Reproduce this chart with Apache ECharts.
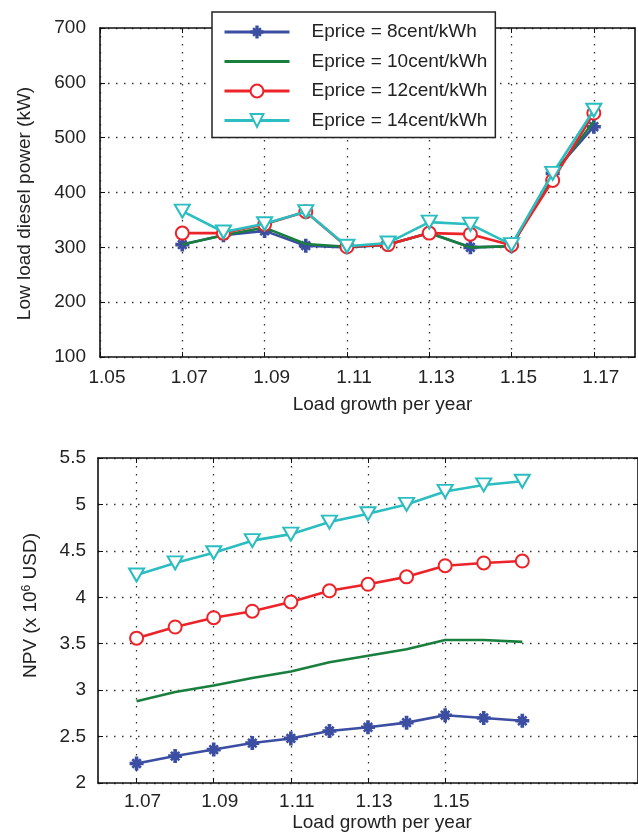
<!DOCTYPE html>
<html><head><meta charset="utf-8">
<script src="https://cdn.jsdelivr.net/npm/echarts@6/dist/echarts.min.js"></script>
<style>html,body{margin:0;padding:0;background:#fff}#c{width:638px;height:834px}</style>
</head><body><div id="c"></div>
<script>
// ---- data ----
const loadGrowth = [1.07, 1.08, 1.09, 1.10, 1.11, 1.12, 1.13, 1.14, 1.15, 1.16, 1.17];
const seriesNames = ['Eprice = 8cent/kWh', 'Eprice = 10cent/kWh', 'Eprice = 12cent/kWh', 'Eprice = 14cent/kWh'];
const power8  = [305, 322, 330, 303, 300, 305, 326, 300, 302, 435, 520];
const power10 = [305, 322, 336, 306, 301, 305, 326, 300, 302, 430, 530];
const power12 = [326, 326, 342, 365, 301, 305, 326, 324, 304, 422, 545];
const power14 = [366, 328, 343, 365, 302, 308, 346, 342, 305, 435, 550];
const npv8  = [2.21, 2.29, 2.36, 2.43, 2.48, 2.56, 2.60, 2.65, 2.73, 2.70, 2.67];
const npv10 = [2.88, 2.98, 3.05, 3.13, 3.20, 3.30, 3.37, 3.44, 3.54, 3.54, 3.52];
const npv12 = [3.56, 3.68, 3.78, 3.85, 3.95, 4.07, 4.14, 4.22, 4.34, 4.37, 4.39];
const npv14 = [4.24, 4.37, 4.48, 4.61, 4.68, 4.81, 4.90, 5.00, 5.14, 5.21, 5.25];
const topXTicks = [1.05, 1.07, 1.09, 1.11, 1.13, 1.15, 1.17];
const bottomXTicks = [1.07, 1.09, 1.11, 1.13, 1.15];

// ---- styles ----
const FONT = 'Liberation Sans, Arial, sans-serif';
const FS = 19;
const TXT = '#222';
const colors = ['#3b4ea2', '#187f3e', '#ec2329', '#2bbdbf'];
const asterisk = 'path://M3.7 0H6.3V10H3.7Z M0 3.7H10V6.3H0Z M2.6 1.3L8.7 7.4L7.4 8.7L1.3 2.6Z M7.4 1.3L8.7 2.6L2.6 8.7L1.3 7.4Z';
const symbols = [
  {symbol: asterisk, size: 14, rot: 0},
  {symbol: 'none', size: 0, rot: 0},
  {symbol: 'emptyCircle', size: 13, rot: 0},
  {symbol: 'emptyTriangle', size: [15, 13], rot: 180}
];

function mkSeries(idx, vals, xi, yi) {
  const s = symbols[idx];
  const c = colors[idx];
  return {
    type: 'line', name: seriesNames[idx], xAxisIndex: xi, yAxisIndex: yi,
    data: loadGrowth.map((x, i) => [x, vals[i]]),
    symbol: s.symbol, symbolSize: s.size, symbolRotate: s.rot,
    showSymbol: s.symbol !== 'none',
    lineStyle: {color: c, width: 2.6},
    itemStyle: {color: c, borderColor: c, borderWidth: s.symbol === asterisk ? 0 : 2.2},
    emphasis: {disabled: true},
    z: 2 + idx
  };
}

const dotted = {show: true, lineStyle: {color: '#333', width: 1.3, type: [1.5, 6.5]}};
const axLine = {show: true, onZero: false, lineStyle: {color: '#111', width: 1.6}};

function xMain(grid, min, max, ticks, name, nameGap, labelPad, namePad, margin) {
  return {
    type: 'value', gridIndex: grid, min, max, position: 'bottom',
    axisLine: axLine,
    axisTick: {show: true, inside: true, length: 5, customValues: ticks, lineStyle: {color: '#111'}},
    axisLabel: {customValues: ticks, formatter: v => v.toFixed(2), margin, fontSize: FS, fontFamily: FONT, color: TXT, padding: labelPad},
    splitLine: dotted,
    name, nameLocation: 'middle', nameGap,
    nameTextStyle: {fontSize: FS, fontFamily: FONT, color: TXT, padding: namePad}
  };
}
function xBox(grid, min, max, ticks) {
  return {
    type: 'value', gridIndex: grid, min, max, position: 'top',
    axisLine: axLine,
    axisTick: {show: true, inside: true, length: 5, customValues: ticks, lineStyle: {color: '#111'}},
    axisLabel: {show: false}, splitLine: {show: false}
  };
}
function yMain(grid, min, max, interval, name, nameGap, labelMargin, namePad) {
  return {
    type: 'value', gridIndex: grid, min, max, interval, position: 'left',
    axisLine: axLine,
    axisTick: {show: true, inside: true, length: 5, lineStyle: {color: '#111'}},
    axisLabel: {margin: labelMargin, fontSize: FS, fontFamily: FONT, color: TXT},
    splitLine: dotted,
    name, nameLocation: 'middle', nameGap,
    nameTextStyle: {fontSize: FS, fontFamily: FONT, color: TXT, padding: namePad,
      rich: {sup: {fontSize: 12, fontFamily: FONT, color: TXT, verticalAlign: 'top'}}}
  };
}
function yBox(grid, min, max, interval) {
  return {
    type: 'value', gridIndex: grid, min, max, interval, position: 'right',
    axisLine: axLine,
    axisTick: {show: true, inside: true, length: 5, lineStyle: {color: '#111'}},
    axisLabel: {show: false}, splitLine: {show: false}
  };
}

const option = {
  animation: false,
  backgroundColor: '#fff',
  textStyle: {fontFamily: FONT},
  grid: [
    {left: 100, top: 28, width: 535, height: 329},
    {left: 98, top: 458, width: 543, height: 325}
  ],
  legend: {
    orient: 'vertical', left: 212, top: 12,
    padding: [10, 8, 7, 11],
    itemWidth: 65, itemHeight: 16, itemGap: 9.5,
    backgroundColor: '#fff', borderColor: '#222', borderWidth: 1.5,
    lineStyle: {width: 3},
    textStyle: {fontSize: FS, fontFamily: FONT, color: TXT, lineHeight: 20, padding: [0, 0, 0, 17]},
    data: [
      {name: seriesNames[0]},
      {name: seriesNames[1], itemStyle: {color: 'rgba(0,0,0,0)', borderWidth: 0, opacity: 0}},
      {name: seriesNames[2]},
      {name: seriesNames[3]}
    ],
    selectedMode: false
  },
  xAxis: [
    xMain(0, 1.05, 1.18, topXTicks, 'Load growth per year', 38, [0, 0, 0, 14], [0, 0, 0, 30], 11),
    xBox(0, 1.05, 1.18, topXTicks),
    xMain(1, 1.06, 1.20, bottomXTicks, 'Load growth per year', 30, [0, 0, 0, 12], [0, 0, 0, 28], 9),
    xBox(1, 1.06, 1.20, bottomXTicks)
  ],
  yAxis: [
    yMain(0, 100, 700, 100, 'Low load diesel power (kW)', 66, 14, [0, 22, 0, 0]),
    yBox(0, 100, 700, 100),
    yMain(1, 2, 5.5, 0.5, 'NPV (x 10{sup|6} USD)', 58, 12, [0, 0, 0, 30]),
    yBox(1, 2, 5.5, 0.5)
  ],
  series: [
    mkSeries(0, power8, 0, 0),
    mkSeries(1, power10, 0, 0),
    mkSeries(2, power12, 0, 0),
    mkSeries(3, power14, 0, 0),
    mkSeries(0, npv8, 2, 2),
    mkSeries(1, npv10, 2, 2),
    mkSeries(2, npv12, 2, 2),
    mkSeries(3, npv14, 2, 2)
  ]
};
const chart = echarts.init(document.getElementById('c'), null, {renderer: 'canvas'});
chart.setOption(option);
</script>
</body></html>
